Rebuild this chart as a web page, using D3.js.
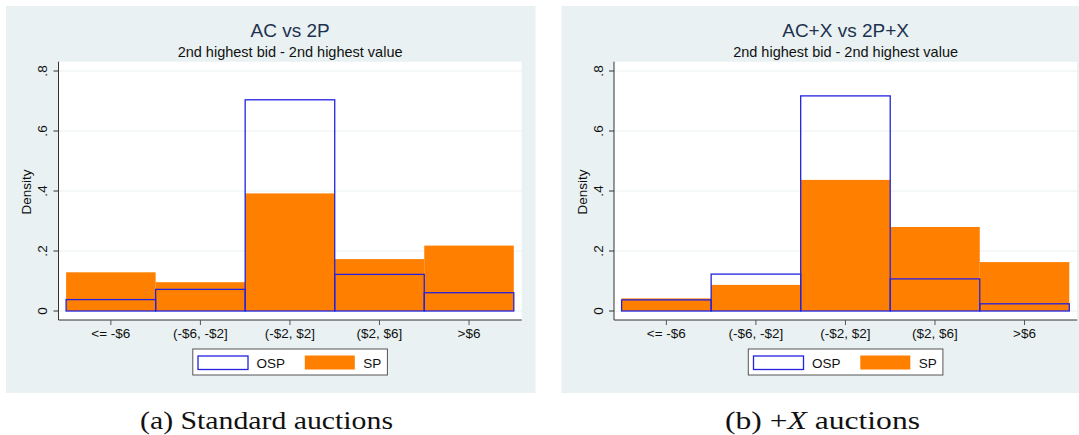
<!DOCTYPE html>
<html>
<head>
<meta charset="utf-8">
<script src="https://cdn.jsdelivr.net/npm/d3@7"></script>
<style>
  body { margin: 0; background: #fff; }
  svg { display: block; }
  .sans { font-family: "Liberation Sans", Arial, sans-serif; }
  .caption { font-family: "Liberation Serif", "Times New Roman", serif; }
</style>
</head>
<body>
<div id="chart"></div>
<script>
// bins and densities
const bins = ["<= -$6", "(-$6, -$2]", "(-$2, $2]", "($2, $6]", ">$6"];
const yTicks = [0, 0.2, 0.4, 0.6, 0.8];

const titles = ["AC vs 2P", "AC+X vs 2P+X"];
const subtitle = "2nd highest bid - 2nd highest value";

const spStandard = [0.129, 0.096, 0.392, 0.173, 0.218];
const ospStandard = [0.038, 0.072, 0.704, 0.122, 0.061];
const spPlusX = [0.042, 0.087, 0.437, 0.280, 0.163];
const ospPlusX = [0.037, 0.123, 0.717, 0.107, 0.024];

const legendLabels = ["OSP", "SP"];

const W = 1079, H = 435;
const orange = "#ff7f00", blue = "#2323e0", bg = "#e9f1f2";

const svg = d3.select("#chart").append("svg")
  .attr("width", W)
  .attr("height", H);

const panels = [
  { ox: 0, title: titles[0], sp: spStandard, osp: ospStandard },
  { ox: 555.5, title: titles[1], sp: spPlusX, osp: ospPlusX }
];

// clip so the right panel is cut at the page edge like the source
svg.append("defs").append("clipPath")
  .attr("id", "page-clip")
  .append("rect")
  .attr("width", W).attr("height", H);

const root = svg.append("g")
  .attr("class", "sans")
  .attr("clip-path", "url(#page-clip)");

panels.forEach(p => {
  const g = root.append("g").attr("transform", `translate(${p.ox},0)`);

  // panel background
  g.append("rect")
    .attr("x", 6).attr("y", 6)
    .attr("width", 529.5).attr("height", 387)
    .attr("fill", bg);

  // plot region
  const plotL = 58.5, plotR = 521.7, plotT = 61.7, plotB = 320;
  g.append("rect")
    .attr("x", plotL).attr("y", plotT)
    .attr("width", plotR - plotL).attr("height", plotB - plotT)
    .attr("fill", "white");

  const x = d3.scaleBand()
    .domain(bins)
    .range([66.1, 513.8])
    .padding(0);

  const y = d3.scaleLinear()
    .domain([0, 0.8])
    .range([311, 71]);

  // gridlines
  g.append("g")
    .selectAll("line")
    .data(yTicks)
    .join("line")
    .attr("x1", plotL).attr("x2", plotR)
    .attr("y1", d => y(d)).attr("y2", d => y(d))
    .attr("stroke", bg)
    .attr("stroke-width", 1);

  // SP bars (filled)
  g.append("g")
    .selectAll("rect")
    .data(p.sp)
    .join("rect")
    .attr("x", (d, i) => x(bins[i]))
    .attr("y", d => y(d))
    .attr("width", x.bandwidth())
    .attr("height", d => y(0) - y(d))
    .attr("fill", orange);

  // OSP bars (outline only)
  g.append("g")
    .selectAll("rect")
    .data(p.osp)
    .join("rect")
    .attr("x", (d, i) => x(bins[i]))
    .attr("y", d => y(d))
    .attr("width", x.bandwidth())
    .attr("height", d => y(0) - y(d))
    .attr("fill", "none")
    .attr("stroke", blue)
    .attr("stroke-width", 1.3);

  // axes lines
  g.append("line")
    .attr("x1", plotL).attr("x2", plotL)
    .attr("y1", plotT).attr("y2", plotB)
    .attr("stroke", "#333").attr("stroke-width", 1);
  g.append("line")
    .attr("x1", plotL).attr("x2", plotR)
    .attr("y1", plotB).attr("y2", plotB)
    .attr("stroke", "#333").attr("stroke-width", 1);

  // y ticks + rotated labels
  const fmt = d => d === 0 ? "0" : d3.format(".1f")(d).replace(/^0/, "");
  const yt = g.append("g").selectAll("g")
    .data(yTicks)
    .join("g");
  yt.append("line")
    .attr("x1", plotL - 5).attr("x2", plotL)
    .attr("y1", d => y(d)).attr("y2", d => y(d))
    .attr("stroke", "#333");
  yt.append("text")
    .attr("transform", d => `translate(47,${y(d)}) rotate(-90)`)
    .attr("text-anchor", "middle")
    .attr("font-size", "13.5px")
    .attr("fill", "#111")
    .text(fmt);

  g.append("text")
    .attr("transform", "translate(31,192) rotate(-90)")
    .attr("text-anchor", "middle")
    .attr("font-size", "13.5px")
    .attr("fill", "#111")
    .text("Density");

  // x ticks + labels
  const xt = g.append("g").selectAll("g")
    .data(bins)
    .join("g");
  xt.append("line")
    .attr("x1", d => x(d) + x.bandwidth() / 2)
    .attr("x2", d => x(d) + x.bandwidth() / 2)
    .attr("y1", plotB).attr("y2", plotB + 5)
    .attr("stroke", "#555");
  xt.append("text")
    .attr("x", d => x(d) + x.bandwidth() / 2)
    .attr("y", 338)
    .attr("text-anchor", "middle")
    .attr("font-size", "13.5px")
    .attr("fill", "#111")
    .text(d => d);

  // titles
  const cx = (plotL + plotR) / 2;
  g.append("text")
    .attr("x", cx).attr("y", 37)
    .attr("text-anchor", "middle")
    .attr("font-size", "19px")
    .attr("fill", "#1e3250")
    .text(p.title);
  g.append("text")
    .attr("x", cx).attr("y", 57)
    .attr("text-anchor", "middle")
    .attr("font-size", "14.5px")
    .attr("fill", "#111")
    .text(subtitle);

  // legend
  const lg = g.append("g");
  lg.append("rect")
    .attr("x", 192.8).attr("y", 349)
    .attr("width", 194.6).attr("height", 26)
    .attr("fill", "white")
    .attr("stroke", "#555")
    .attr("stroke-width", 1);
  lg.append("rect")
    .attr("x", 198).attr("y", 356)
    .attr("width", 50).attr("height", 13.5)
    .attr("fill", "white")
    .attr("stroke", blue)
    .attr("stroke-width", 1.3);
  lg.append("text")
    .attr("x", 256.5).attr("y", 367.5)
    .attr("font-size", "13.5px")
    .attr("fill", "#111")
    .text(legendLabels[0]);
  lg.append("rect")
    .attr("x", 304.8).attr("y", 355.5)
    .attr("width", 50).attr("height", 14)
    .attr("fill", orange);
  lg.append("text")
    .attr("x", 363.3).attr("y", 367.5)
    .attr("font-size", "13.5px")
    .attr("fill", "#111")
    .text(legendLabels[1]);
});

// captions below the panels (serif, like the LaTeX subcaptions)
svg.append("text")
  .attr("class", "caption")
  .attr("x", 140).attr("y", 429)
  .attr("font-size", "26px")
  .attr("textLength", 253)
  .attr("lengthAdjust", "spacingAndGlyphs")
  .attr("fill", "#111")
  .text("(a) Standard auctions");

const capB = svg.append("text")
  .attr("class", "caption")
  .attr("x", 725).attr("y", 429)
  .attr("font-size", "26px")
  .attr("textLength", 195)
  .attr("lengthAdjust", "spacingAndGlyphs")
  .attr("fill", "#111");
capB.append("tspan").text("(b) +");
capB.append("tspan").attr("font-style", "italic").text("X");
capB.append("tspan").text(" auctions");
</script>
</body>
</html>
